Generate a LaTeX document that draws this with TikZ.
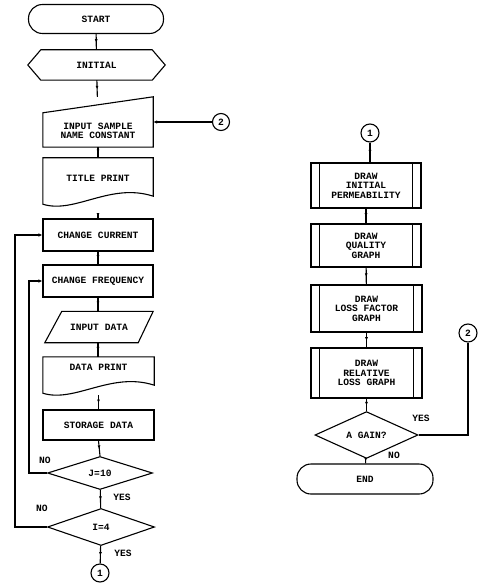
\documentclass[tikz,border=0pt]{standalone}
\usepackage{fontspec}
\setmonofont{Liberation Mono}
\usetikzlibrary{shapes.geometric,arrows.meta,decorations.markings}
\begin{document}
\begin{tikzpicture}[x=1pt,y=-1pt,
  every node/.style={font=\ttfamily\bfseries\fontsize{9.6}{9.5}\selectfont, align=center, inner sep=0pt},
  outline/.style={line width=1.1pt},
  box/.style={draw, outline, rectangle},
  ghost/.style={rectangle},
  term/.style={draw, outline, rectangle, rounded corners=14pt},
  dec/.style={draw, outline, diamond},
  conn/.style={draw, outline, circle, minimum size=17pt},
  flow/.style={line width=1.1pt, postaction={decorate}, decoration={markings, mark=at position 0.55 with {\arrow{Latex[length=3.5pt,width=3pt]}}}},
  tipped/.style={line width=1.1pt, -{Latex[length=4pt,width=3.5pt]}},
  lbl/.style={}
]
\useasboundingbox (0,0) rectangle (481,585);

% ---------- left column ----------
\node[term, minimum width=135pt, minimum height=29pt] (start) at (96,19) {START};
\node[ghost, minimum width=137pt, minimum height=30pt] (init) at (96.5,65) {INITIAL};
\draw[outline] (init.west) -- ([xshift=13pt]init.north west) -- ([xshift=-13pt]init.north east)
  -- (init.east) -- ([xshift=-13pt]init.south east) -- ([xshift=13pt]init.south west) -- cycle;

\node[ghost, minimum width=110pt, minimum height=50pt] (inp) at (98,122) {};
\draw[outline] ([yshift=-16pt]inp.north west) -- (inp.north east) -- (inp.south east) -- (inp.south west) -- cycle;
\node (inpt) at (98,131) {INPUT SAMPLE\\NAME CONSTANT};

\node[ghost, minimum width=110pt, minimum height=46pt] (tp) at (98,181) {};
\draw[outline] (tp.north west) -- (tp.south west)
  .. controls ([xshift=32pt,yshift=-10pt]tp.south west) and ([xshift=-43pt,yshift=22pt]tp.south east)
  .. ([yshift=8pt]tp.south east) -- (tp.north east) -- cycle;
\node (tpt) at (98,178) {TITLE PRINT};

\node[box, minimum width=110pt, minimum height=32pt] (cc) at (98,235) {CHANGE CURRENT};
\node[box, minimum width=110pt, minimum height=32pt] (cf) at (98,281) {CHANGE FREQUENCY};

\node[ghost, minimum width=108pt, minimum height=31pt] (id) at (99,327) {INPUT DATA};
\draw[outline] ([xshift=17pt]id.north west) -- (id.north east) -- ([xshift=-15pt]id.south east) -- (id.south west) -- cycle;

\node[ghost, minimum width=111pt, minimum height=36pt] (dp) at (98.5,375) {};
\draw[outline] (dp.north west) -- (dp.south west)
  .. controls ([xshift=32pt,yshift=-10pt]dp.south west) and ([xshift=-43pt,yshift=22pt]dp.south east)
  .. ([yshift=8pt]dp.south east) -- (dp.north east) -- cycle;
\node (dpt) at (98.5,367) {DATA PRINT};

\node[box, minimum width=111pt, minimum height=30pt] (sd) at (98.5,425) {STORAGE DATA};

\node[dec, minimum width=105pt, minimum height=33pt] (j10) at (100,473) {J=10};
\node[dec, minimum width=107pt, minimum height=37pt] (i4) at (101,527) {I=4};
\node[conn, minimum size=18pt] (c1l) at (100,573) {1};
\node[conn] (c2l) at (221,122) {2};

\draw[flow] (start) -- (init);
\draw[flow] (init) -- (inp);
\draw[flow] (inp) -- (tp);
\draw[flow] ([yshift=-10pt]tp.south) -- (cc);
\draw[flow] (cc) -- (cf);
\draw[flow] (cf) -- (cf |- id.north);
\draw[flow] (cf |- id.south) -- (cf |- dp.north);
\draw[flow] ([yshift=-2pt]dp.south) -- (sd);
\draw[flow] (sd.south) -- (j10.north);
\draw[flow] (j10) -- (i4);
\draw[flow] (i4) -- (c1l);
\draw[tipped] (c2l) -- (c2l -| inp.east);
\coordinate (lpj) at (29,473);
\coordinate (lpi) at (15,527);
\draw[tipped] (j10.west) -- (lpj) -- (lpj |- cf.west) -- (cf.west);
\draw[tipped] (i4.west) -- (lpi) -- (lpi |- cc.west) -- (cc.west);
\node[lbl] (noj) at (45,460) {NO};
\node[lbl] (noi) at (42,508) {NO};
\node[lbl] (yesj) at (122,497) {YES};
\node[lbl] (yesi) at (123,553) {YES};

% ---------- right column ----------
\node[conn, minimum size=18pt] (c1r) at (370,133) {1};
\node[box, minimum width=110pt, minimum height=45pt] (p1) at (366,185.5) {DRAW\\INITIAL\\PERMEABILITY};
\node[box, minimum width=110pt, minimum height=43pt] (p2) at (366,245.5) {DRAW\\QUALITY\\GRAPH};
\node[box, minimum width=111pt, minimum height=47pt] (p3) at (366.5,308.5) {DRAW\\LOSS FACTOR\\GRAPH};
\node[box, minimum width=111pt, minimum height=50pt] (p4) at (366.5,373) {DRAW\\RELATIVE\\LOSS GRAPH};
\foreach \n in {p1,p2,p3,p4}{
  \draw[outline] ([xshift=9pt]\n.north west) -- ([xshift=9pt]\n.south west);
  \draw[outline] ([xshift=-9pt]\n.north east) -- ([xshift=-9pt]\n.south east);
}
\node[dec, minimum width=103pt, minimum height=36pt] (ag) at (366.5,435) {A GAIN?};
\node[term, minimum width=136pt, minimum height=30pt] (end) at (365,479) {END};
\node[conn, minimum size=18pt] (c2r) at (468,333) {2};

\draw[flow] (c1r) -- (c1r |- p1.north);
\draw[flow] (p1) -- (p2);
\draw[flow] (p2) -- (p3);
\draw[flow] (p3) -- (p4);
\draw[flow] (p4) -- (ag);
\draw[flow] (ag) -- (end);
\draw[line width=1.1pt] (ag.east) -| (c2r.south);
\node[lbl] (yesa) at (421,418) {YES};
\node[lbl] (noa) at (394,455) {NO};
\end{tikzpicture}
\end{document}
